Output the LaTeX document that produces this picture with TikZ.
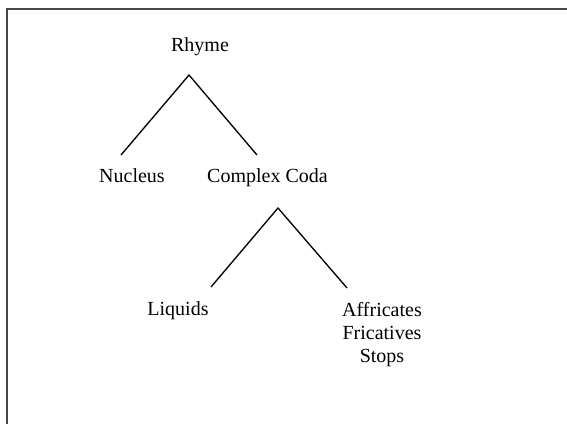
\documentclass[tikz,border=0pt]{standalone}
\usepackage{fontspec}
\setmainfont{Liberation Serif}
\begin{document}
\begin{tikzpicture}[x=0.6pt,y=-0.6pt,
  lbl/.style={font=\fontsize{12}{13.8}\selectfont, inner sep=0pt, anchor=base},
  branch/.style={line width=0.8pt, black},
  frame/.style={line width=1.2pt, gray!55!black}]
\useasboundingbox (0,0) rectangle (567,424);
\draw[frame] (7,430) -- (7,9) -- (575,9);
\node[lbl] (rhyme) at (200,52) {Rhyme};
\node[lbl] (nucleus) at (132,183) {Nucleus};
\node[lbl] (coda) at (267.5,183) {Complex Coda};
\node[lbl] (liquids) at (178,315) {Liquids};
\node[lbl, align=center] (obs) at (382,362) {Affricates\\ Fricatives\\ Stops};
\coordinate (r1) at (189,75);
\coordinate (n1) at (121,155);
\coordinate (c1) at (257,155);
\coordinate (r2) at (278,208);
\coordinate (l2) at (211,287);
\coordinate (o2) at (347,288);
\draw[branch] (n1) -- (r1) -- (c1);
\draw[branch] (l2) -- (r2) -- (o2);
\end{tikzpicture}
\end{document}
